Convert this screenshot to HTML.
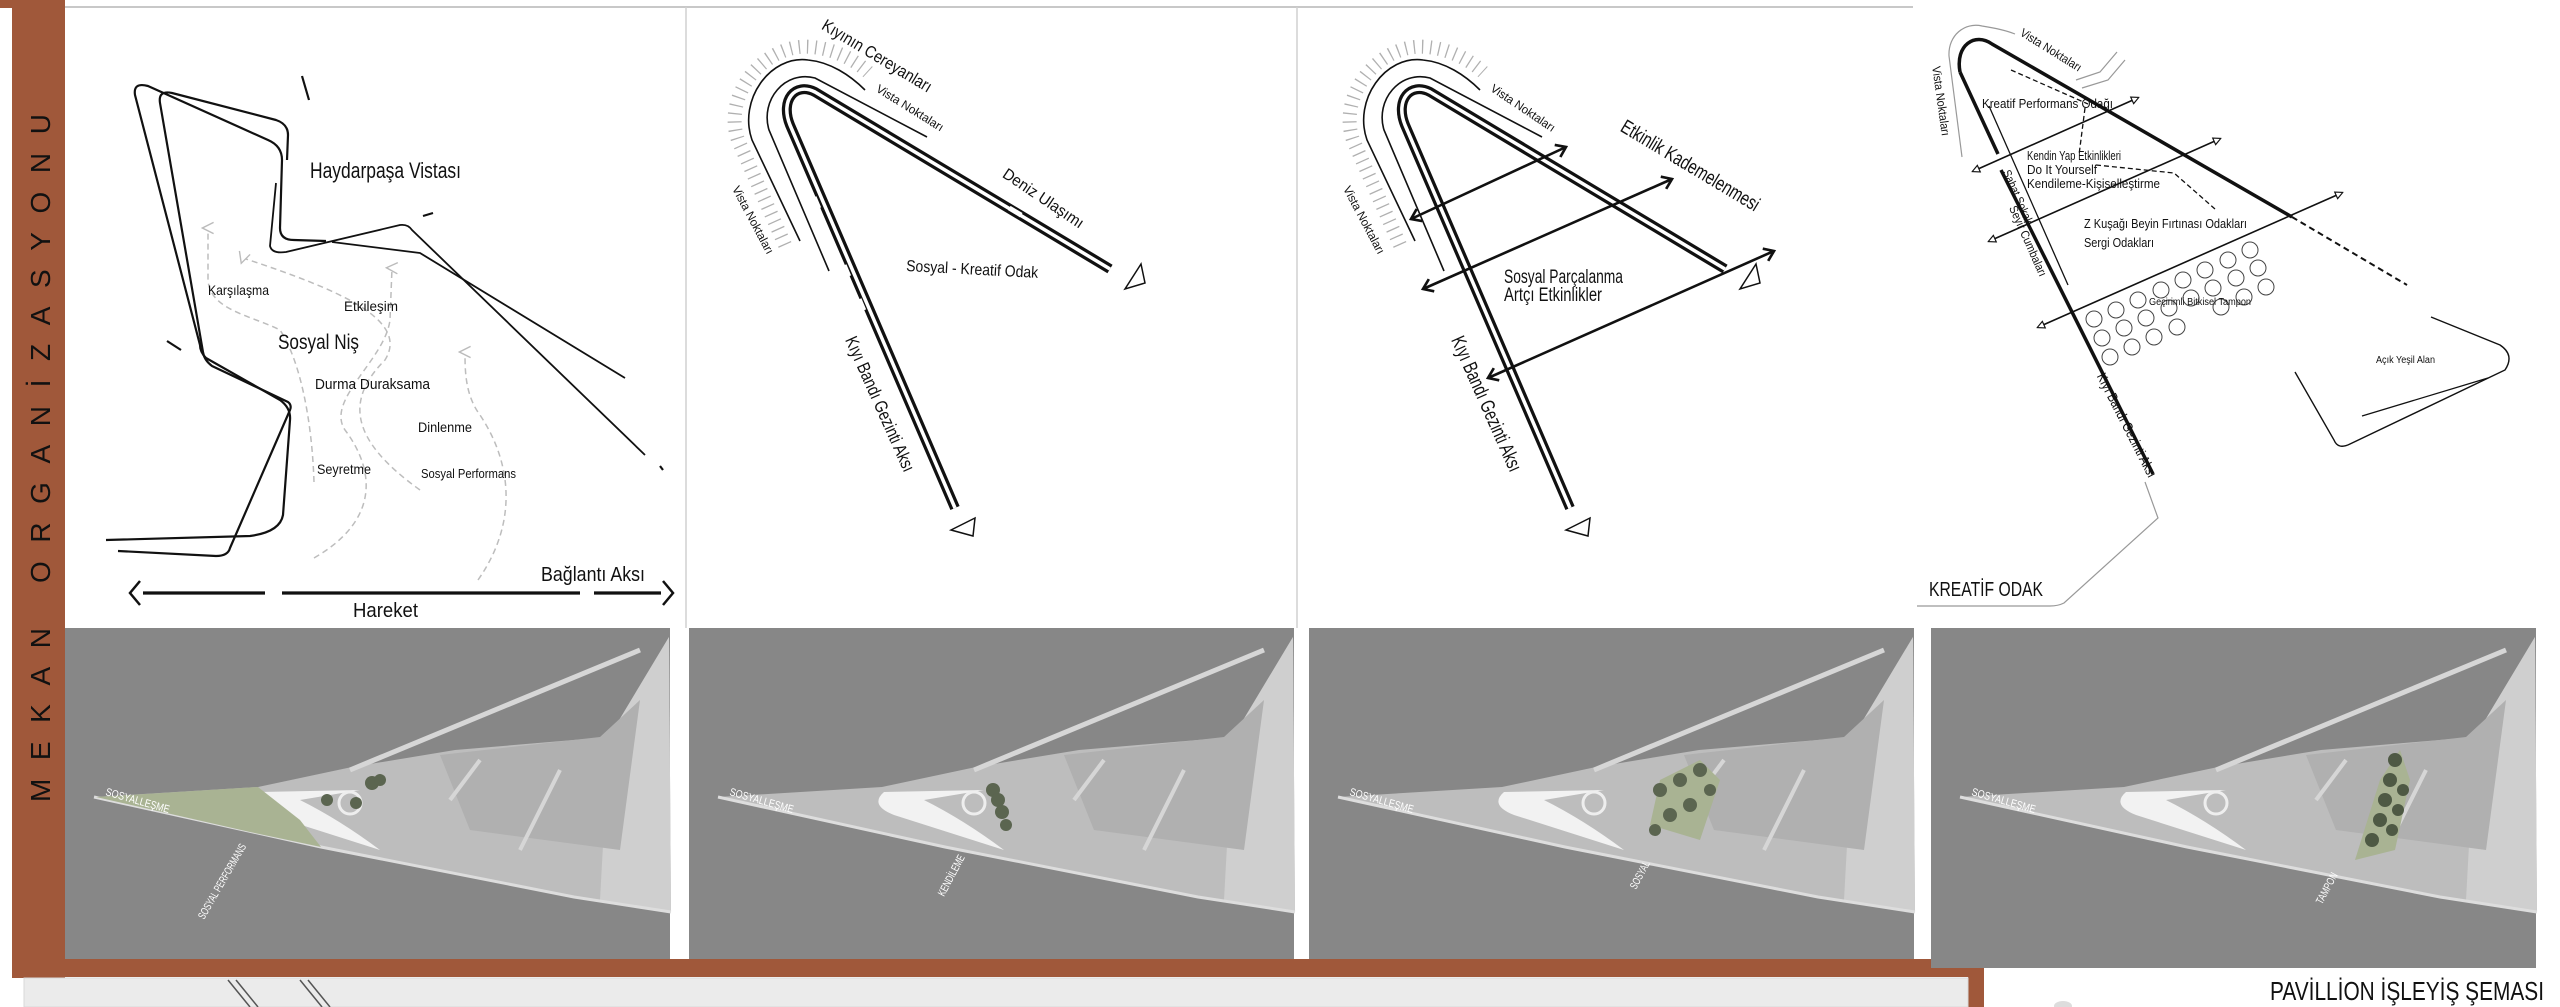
<!DOCTYPE html>
<html><head><meta charset="utf-8"><style>
html,body{margin:0;padding:0;background:#fff;}
svg{display:block;}
text{font-family:"Liberation Sans Narrow","Liberation Sans",sans-serif;fill:#111;}
</style></head><body>
<svg width="2560" height="1007" viewBox="0 0 2560 1007" xmlns="http://www.w3.org/2000/svg">
<defs>
<marker id="tri" viewBox="0 0 10 10" refX="2" refY="5" markerWidth="9" markerHeight="9" orient="auto-start-reverse" markerUnits="userSpaceOnUse"><path d="M1,1 L9,5 L1,9 Z" fill="#fff" stroke="#111" stroke-width="1.3"/></marker>
<marker id="chev" viewBox="0 0 12 12" refX="10" refY="6" markerWidth="16" markerHeight="16" orient="auto-start-reverse" markerUnits="userSpaceOnUse"><path d="M3,1 L10,6 L3,11" fill="none" stroke="#111" stroke-width="2"/></marker>
<marker id="dtri" viewBox="0 0 10 10" refX="5" refY="5" markerWidth="14" markerHeight="14" orient="auto" markerUnits="userSpaceOnUse"><path d="M1,9 L5,1 L9,9" fill="#fff" stroke="#bbb" stroke-width="1"/></marker>
</defs>
<rect width="2560" height="1007" fill="#fff"/>
<line x1="65" y1="7" x2="1913" y2="7" stroke="#c8c8c8" stroke-width="2"/>
<line x1="686" y1="7" x2="686" y2="628" stroke="#d0d0d0" stroke-width="1.5"/>
<line x1="1297" y1="7" x2="1297" y2="628" stroke="#d0d0d0" stroke-width="1.5"/>

<rect x="0" y="0" width="20" height="8" fill="#a0583a"/>
<rect x="12" y="0" width="53" height="978" fill="#a0583a"/>
<rect x="12" y="959" width="1972" height="18" fill="#a0583a"/>
<rect x="1968" y="959" width="16" height="48" fill="#a0583a"/>
<rect x="24" y="978" width="1944" height="29" fill="#ebebeb" stroke="#d8d8d8"/>
<line x1="228" y1="980" x2="250" y2="1007" stroke="#555" stroke-width="1.5"/>
<line x1="236" y1="980" x2="258" y2="1007" stroke="#555" stroke-width="1.5"/>
<line x1="300" y1="980" x2="322" y2="1007" stroke="#555" stroke-width="1.5"/>
<line x1="308" y1="980" x2="330" y2="1007" stroke="#555" stroke-width="1.5"/>
<text transform="translate(50,802) rotate(-90)" font-size="28" textLength="688" lengthAdjust="spacing" style="font-family:'Liberation Sans',sans-serif">MEKAN ORGANİZASYONU</text>

<g fill="none" stroke="#111" stroke-width="2.2" stroke-linejoin="round">
<path d="M106,540 L250,536 Q280,532 283,515 L290,420 Q291,408 280,400 L206,358 Q200,352 200,345 L135,95 Q133,82 148,86 L268,140 Q282,146 282,160 L280,228 Q280,240 294,240 L326,241"/>
<path d="M332,242 L420,253 L625,378" stroke-width="1.8"/>
<path d="M118,551 L216,556 Q228,556 230,548 L290,410 Q292,405 288,402 L212,366 Q204,360 203,352 L160,103 Q158,90 172,93 L276,120 Q288,124 288,135 L287,160"/>
<path d="M276,183 L270,246 Q272,254 286,252 L400,225 Q408,224 412,230 L645,455" stroke-width="1.8"/>
<line x1="302" y1="76" x2="309" y2="100"/>
<line x1="167" y1="341" x2="181" y2="350"/>
<line x1="423" y1="216" x2="433" y2="213"/>
<line x1="660" y1="466" x2="663" y2="470"/>
</g>
<g fill="none" stroke="#bdbdbd" stroke-width="1.5" stroke-dasharray="6 4">
<path d="M314,558 C380,520 375,470 345,430 C325,400 385,360 390,320 L392,268" marker-end="url(#dtri)"/>
<path d="M478,580 C520,520 510,460 480,415 C465,395 465,370 465,352" marker-end="url(#dtri)"/>
<path d="M314,482 C312,420 300,360 280,330 C250,315 210,310 208,280 L208,228" marker-end="url(#dtri)"/>
<path d="M420,490 C350,440 345,400 385,360 C410,320 340,290 243,258" marker-end="url(#dtri)"/>
</g>
<text x="310" y="178" font-size="22" textLength="151" lengthAdjust="spacingAndGlyphs">Haydarpaşa Vistası</text>
<text x="208" y="295" font-size="14" textLength="61" lengthAdjust="spacingAndGlyphs">Karşılaşma</text>
<text x="344" y="311" font-size="14" textLength="54" lengthAdjust="spacingAndGlyphs">Etkileşim</text>
<text x="278" y="349" font-size="21" textLength="81" lengthAdjust="spacingAndGlyphs">Sosyal Niş</text>
<text x="315" y="389" font-size="15" textLength="115" lengthAdjust="spacingAndGlyphs">Durma Duraksama</text>
<text x="418" y="432" font-size="14" textLength="54" lengthAdjust="spacingAndGlyphs">Dinlenme</text>
<text x="317" y="474" font-size="14" textLength="54" lengthAdjust="spacingAndGlyphs">Seyretme</text>
<text x="421" y="478" font-size="13" textLength="95" lengthAdjust="spacingAndGlyphs">Sosyal Performans</text>
<text x="541" y="581" font-size="20" textLength="104" lengthAdjust="spacingAndGlyphs">Bağlantı Aksı</text>
<text x="353" y="617" font-size="20" textLength="65" lengthAdjust="spacingAndGlyphs">Hareket</text>
<g stroke="#111" stroke-width="3.2" fill="none">
<line x1="143" y1="593" x2="265" y2="593"/><line x1="282" y1="593" x2="580" y2="593"/><line x1="594" y1="593" x2="661" y2="593"/>
<path d="M140,581 L130,593 L140,605" stroke-width="2.5"/><path d="M663,581 L673,593 L663,605" stroke-width="2.5"/>
</g>

<g id="hp">
<path d="M785,245 L738,140 C722,95 765,42 812,47 C835,49 855,60 868,72" fill="none" stroke="#b0b0b0" stroke-width="14" stroke-dasharray="1.3 7"/>
<path d="M800,241 L752,140 C738,100 770,55 808,60 C830,62 850,75 865,90" fill="none" stroke="#111" stroke-width="1.6"/>
<path d="M829,271 L769,130 C760,100 785,70 815,78 L927,137" fill="none" stroke="#111" stroke-width="1.6"/>
<path d="M955,508 L790,125 C780,100 795,82 815,92 L1110,269" fill="none" stroke="#111" stroke-width="10"/>
<path d="M955,508 L790,125 C780,100 795,82 815,92 L1110,269" fill="none" stroke="#fff" stroke-width="3.5"/>
</g>
<g fill="#fff" stroke="none">
<rect x="920" y="186" width="14" height="6" transform="rotate(31 927 189)"/>
<rect x="1008" y="209" width="14" height="5" transform="rotate(31 1015 212)"/>
<rect x="810" y="200" width="12" height="5" transform="rotate(67 816 203)"/>
<rect x="840" y="268" width="12" height="5" transform="rotate(67 846 271)"/>
<rect x="855" y="302" width="12" height="5" transform="rotate(67 861 305)"/>
</g>
<polygon points="1141,264 1125,289 1145,283" fill="#fff" stroke="#111" stroke-width="1.5"/>
<polygon points="975,518 951,530 973,536" fill="#fff" stroke="#111" stroke-width="1.5"/>
<text transform="translate(877,56) rotate(31)" font-size="17" text-anchor="middle" dominant-baseline="central" textLength="125" lengthAdjust="spacingAndGlyphs">Kıyının Cereyanları</text>
<text transform="translate(910,108) rotate(32)" font-size="12" text-anchor="middle" dominant-baseline="central" textLength="77" lengthAdjust="spacingAndGlyphs">Vista Noktaları</text>
<text transform="translate(753,220) rotate(62)" font-size="12" text-anchor="middle" dominant-baseline="central" textLength="75" lengthAdjust="spacingAndGlyphs">Vista Noktaları</text>
<text transform="translate(1043,199) rotate(34)" font-size="16" text-anchor="middle" dominant-baseline="central" textLength="94" lengthAdjust="spacingAndGlyphs">Deniz Ulaşımı</text>
<text transform="translate(906,271) rotate(3)" font-size="16" textLength="132" lengthAdjust="spacingAndGlyphs">Sosyal - Kreatif Odak</text>
<text transform="translate(880,404) rotate(66)" font-size="18" text-anchor="middle" dominant-baseline="central" textLength="146" lengthAdjust="spacingAndGlyphs">Kıyı Bandı Gezinti Aksı</text>

<use href="#hp" transform="translate(615,0)"/>
<g fill="#fff"><rect x="1620" y="192" width="14" height="6" transform="rotate(31 1627 195)"/><rect x="1700" y="242" width="14" height="6" transform="rotate(31 1707 245)"/><rect x="1476" y="360" width="12" height="5" transform="rotate(67 1482 363)"/></g>
<polygon points="1756,264 1740,289 1760,283" fill="#fff" stroke="#111" stroke-width="1.5"/>
<polygon points="1590,518 1566,530 1588,536" fill="#fff" stroke="#111" stroke-width="1.5"/>
<g stroke="#111" stroke-width="2.6" fill="none" marker-start="url(#chev)" marker-end="url(#chev)">
<line x1="1411" y1="219" x2="1566" y2="147"/>
<line x1="1423" y1="289" x2="1672" y2="179"/>
<line x1="1488" y1="378" x2="1774" y2="251"/>
</g>
<text transform="translate(1690,166) rotate(31)" font-size="20" text-anchor="middle" dominant-baseline="central" textLength="158" lengthAdjust="spacingAndGlyphs">Etkinlik Kademelenmesi</text>
<text transform="translate(1523,108) rotate(34)" font-size="12" text-anchor="middle" dominant-baseline="central" textLength="75" lengthAdjust="spacingAndGlyphs">Vista Noktaları</text>
<text transform="translate(1364,220) rotate(62)" font-size="12" text-anchor="middle" dominant-baseline="central" textLength="75" lengthAdjust="spacingAndGlyphs">Vista Noktaları</text>
<text x="1504" y="283" font-size="19" textLength="119" lengthAdjust="spacingAndGlyphs">Sosyal Parçalanma</text>
<text x="1504" y="301" font-size="19" textLength="98" lengthAdjust="spacingAndGlyphs">Artçı Etkinlikler</text>
<text transform="translate(1486,404) rotate(66)" font-size="20" text-anchor="middle" dominant-baseline="central" textLength="146" lengthAdjust="spacingAndGlyphs">Kıyı Bandı Gezinti Aksı</text>

<g fill="none" stroke="#999" stroke-width="1.2">
<path d="M1962,157 L1949,56 C1948,35 1965,22 1982,26 C1995,28 2005,30 2015,34"/>
<path d="M2076,80 L2100,72 L2117,52"/><path d="M2082,88 L2108,80 L2125,60"/>
<path d="M2145,482 L2158,518 L2064,603 Q2058,606 2050,606 L1917,606"/>
</g>
<g fill="none" stroke="#111">
<path d="M1960,72 C1955,45 1975,32 1992,44 L2292,217" stroke-width="3.5"/>
<path d="M2292,217 L2407,285" stroke-width="2" stroke-dasharray="6 4"/>
<path d="M1960,72 L1998,154" stroke-width="3.5"/>
<path d="M2001,170 L2153,474" stroke-width="3.5"/>
<path d="M1989,106 L2068,285" stroke-width="1.3"/>
<path d="M2431,317 L2500,345 Q2515,355 2505,370 L2350,444 Q2338,450 2334,440 L2295,372" stroke-width="1.4"/>
<path d="M2362,416 L2488,378" stroke-width="1.3"/>
<path d="M2011,70 L2088,104 M2085,108 L2079,155 M2096,165 L2174,173 L2215,209" stroke-width="1.3" stroke-dasharray="5 3"/>
</g>
<g stroke="#111" stroke-width="1.6" marker-start="url(#tri)" marker-end="url(#tri)">
<line x1="1978" y1="169" x2="2133" y2="100"/>
<line x1="1994" y1="239" x2="2215" y2="141"/>
<line x1="2043" y1="325" x2="2337" y2="195"/>
</g>
<g fill="#fff" stroke="#444" stroke-width="1">
<circle cx="2250" cy="250" r="8"/><circle cx="2228" cy="260" r="8"/><circle cx="2205" cy="270" r="8"/><circle cx="2183" cy="280" r="8"/><circle cx="2161" cy="290" r="8"/><circle cx="2138" cy="300" r="8"/><circle cx="2116" cy="310" r="8"/><circle cx="2094" cy="319" r="8"/>
<circle cx="2258" cy="268" r="8"/><circle cx="2236" cy="278" r="8"/><circle cx="2213" cy="288" r="8"/><circle cx="2191" cy="298" r="8"/><circle cx="2169" cy="308" r="8"/><circle cx="2146" cy="318" r="8"/><circle cx="2124" cy="328" r="8"/><circle cx="2102" cy="338" r="8"/>
<circle cx="2266" cy="287" r="8"/><circle cx="2244" cy="297" r="8"/><circle cx="2221" cy="307" r="8"/><circle cx="2177" cy="327" r="8"/><circle cx="2154" cy="337" r="8"/><circle cx="2132" cy="347" r="8"/><circle cx="2110" cy="357" r="8"/>
</g>
<text transform="translate(2051,50) rotate(32)" font-size="12" text-anchor="middle" dominant-baseline="central" textLength="70" lengthAdjust="spacingAndGlyphs">Vista Noktaları</text>
<text transform="translate(1941,101) rotate(82)" font-size="12" text-anchor="middle" dominant-baseline="central" textLength="70" lengthAdjust="spacingAndGlyphs">Vista Noktaları</text>
<text x="1982" y="108" font-size="13" textLength="131" lengthAdjust="spacingAndGlyphs">Kreatif Performans Odağı</text>
<text x="2027" y="160" font-size="13" textLength="94" lengthAdjust="spacingAndGlyphs">Kendin Yap Etkinlikleri</text>
<text x="2027" y="174" font-size="13" textLength="70" lengthAdjust="spacingAndGlyphs">Do It Yourself</text>
<text x="2027" y="188" font-size="13" textLength="133" lengthAdjust="spacingAndGlyphs">Kendileme-Kişiselleştirme</text>
<text transform="translate(2018,197) rotate(66)" font-size="12" text-anchor="middle" dominant-baseline="central" textLength="58" lengthAdjust="spacingAndGlyphs">Sahat Sokak</text>
<text transform="translate(2028,241) rotate(66)" font-size="12" text-anchor="middle" dominant-baseline="central" textLength="76" lengthAdjust="spacingAndGlyphs">Seyir Cumbaları</text>
<text x="2084" y="228" font-size="13" textLength="163" lengthAdjust="spacingAndGlyphs">Z Kuşağı Beyin Fırtınası Odakları</text>
<text x="2084" y="247" font-size="13" textLength="70" lengthAdjust="spacingAndGlyphs">Sergi Odakları</text>
<text x="2149" y="305" font-size="10" textLength="102" lengthAdjust="spacingAndGlyphs">Geçirimli Bitkisel Tampon</text>
<text x="2376" y="363" font-size="10" textLength="59" lengthAdjust="spacingAndGlyphs">Açık Yeşil Alan</text>
<text transform="translate(2127,425) rotate(63)" font-size="14" text-anchor="middle" dominant-baseline="central" textLength="115" lengthAdjust="spacingAndGlyphs">Kıyı Bandı Gezinti Aksı</text>
<text x="1929" y="596" font-size="20" textLength="114" lengthAdjust="spacingAndGlyphs">KREATİF ODAK</text>

<g id="img">
<rect x="65" y="628" width="605" height="331" fill="#878787"/>
<polygon points="94,797 258,787 352,767 455,750 609,737 669,637 671,912 574,897 321,847" fill="#bdbdbd"/>
<polygon points="609,737 669,637 671,912 600,900" fill="#cfcfcf"/>
<polygon points="440,755 600,737 640,700 620,850 470,830" fill="#b0b0b0"/>
<path d="M94,797 L321,847 L574,897 L671,912" stroke="#ddd" stroke-width="3" fill="none"/>
<line x1="350" y1="770" x2="640" y2="650" stroke="#d6d6d6" stroke-width="5"/>
<line x1="450" y1="800" x2="480" y2="760" stroke="#d6d6d6" stroke-width="4"/>
<line x1="520" y1="850" x2="560" y2="770" stroke="#d6d6d6" stroke-width="4"/>
<path d="M260,792 Q245,805 270,815 L380,850 Q340,820 300,800 L360,790" fill="#f2f2f2"/>
<circle cx="350" cy="803" r="11" fill="none" stroke="#eee" stroke-width="3"/>
</g>
<use href="#img" transform="translate(624,0)"/>
<use href="#img" transform="translate(1244,0)"/>
<use href="#img" transform="translate(1866,0)"/>
<rect x="1931" y="955" width="605" height="13" fill="#878787"/>
<polygon points="96,797 258,787 300,820 321,847 250,832" fill="#a9b393"/>
<g fill="#5b6550"><circle cx="372" cy="783" r="7"/><circle cx="380" cy="780" r="6"/><circle cx="327" cy="800" r="6"/><circle cx="356" cy="803" r="6"/></g>
<g fill="#5b6550"><circle cx="993" cy="790" r="7"/><circle cx="998" cy="800" r="7"/><circle cx="1002" cy="812" r="7"/><circle cx="1006" cy="825" r="6"/></g>
<polygon points="1660,780 1700,760 1720,780 1700,840 1650,825" fill="#a9b393"/>
<g fill="#5b6550"><circle cx="1660" cy="790" r="7"/><circle cx="1680" cy="780" r="7"/><circle cx="1700" cy="770" r="7"/><circle cx="1670" cy="815" r="7"/><circle cx="1690" cy="805" r="7"/><circle cx="1655" cy="830" r="6"/><circle cx="1710" cy="790" r="6"/></g>
<polygon points="2355,860 2380,780 2400,750 2410,780 2395,850" fill="#a9b393"/>
<g fill="#4e5944"><circle cx="2395" cy="760" r="7"/><circle cx="2390" cy="780" r="7"/><circle cx="2385" cy="800" r="7"/><circle cx="2380" cy="820" r="7"/><circle cx="2372" cy="840" r="7"/><circle cx="2403" cy="790" r="6"/><circle cx="2398" cy="810" r="6"/><circle cx="2392" cy="830" r="6"/></g>
<g font-size="11">
<text transform="translate(105,795) rotate(16)" style="fill:#fff" textLength="66" lengthAdjust="spacingAndGlyphs">SOSYALLEŞME</text>
<text transform="translate(729,795) rotate(16)" style="fill:#fff" textLength="66" lengthAdjust="spacingAndGlyphs">SOSYALLEŞME</text>
<text transform="translate(1349,795) rotate(16)" style="fill:#fff" textLength="66" lengthAdjust="spacingAndGlyphs">SOSYALLEŞME</text>
<text transform="translate(1971,795) rotate(16)" style="fill:#fff" textLength="66" lengthAdjust="spacingAndGlyphs">SOSYALLEŞME</text>
<text transform="translate(204,920) rotate(-60)" style="fill:#fff" textLength="85" lengthAdjust="spacingAndGlyphs">SOSYAL PERFORMANS</text>
<text transform="translate(944,897) rotate(-62)" style="fill:#fff" textLength="45" lengthAdjust="spacingAndGlyphs">KENDİLEME</text>
<text transform="translate(1636,890) rotate(-62)" style="fill:#fff" textLength="30" lengthAdjust="spacingAndGlyphs">SOSYAL</text>
<text transform="translate(2322,905) rotate(-62)" style="fill:#fff" textLength="34" lengthAdjust="spacingAndGlyphs">TAMPON</text>
</g>
<text x="2270" y="1000" font-size="26" textLength="274" lengthAdjust="spacingAndGlyphs">PAVİLLİON İŞLEYİŞ ŞEMASI</text>
<ellipse cx="2063" cy="1006" rx="9" ry="5" fill="#ddd"/>
</svg>
</body></html>
